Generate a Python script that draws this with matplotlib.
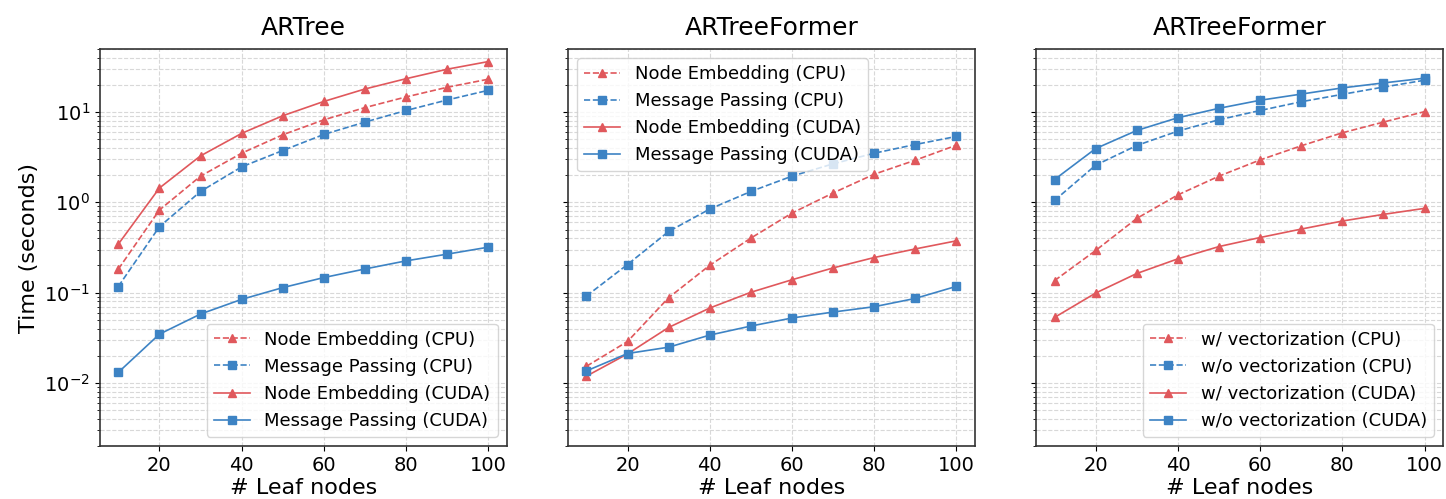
import matplotlib
matplotlib.use('Agg')
import matplotlib.pyplot as plt

plt.rcParams.update({'font.family': 'DejaVu Sans'})

leaves = [10, 20, 30, 40, 50, 60, 70, 80, 90, 100]

# ARTree
artree_ne_cpu = [0.182, 0.822, 1.95, 3.5, 5.6, 8.2, 11.2, 14.7, 18.8, 23.1]
artree_mp_cpu = [0.117, 0.537, 1.32, 2.47, 3.75, 5.65, 7.74, 10.4, 13.6, 17.4]
artree_ne_cuda = [0.344, 1.44, 3.27, 5.8, 9.1, 13.1, 18.0, 23.4, 29.8, 36.2]
artree_mp_cuda = [0.0131, 0.0347, 0.058, 0.0843, 0.1137, 0.147, 0.183, 0.225, 0.267, 0.319]

# ARTreeFormer
former_ne_cpu = [0.0153, 0.0288, 0.088, 0.201, 0.402, 0.761, 1.27, 2.05, 2.93, 4.30]
former_mp_cpu = [0.0918, 0.205, 0.476, 0.843, 1.32, 1.95, 2.67, 3.50, 4.37, 5.37]
former_ne_cuda = [0.0119, 0.021, 0.0412, 0.0676, 0.101, 0.139, 0.188, 0.245, 0.305, 0.375]
former_mp_cuda = [0.0136, 0.0212, 0.0249, 0.0339, 0.0427, 0.0524, 0.061, 0.0699, 0.0864, 0.1175]

# ARTreeFormer vectorization
vec_cpu = [0.136, 0.293, 0.664, 1.21, 1.95, 2.95, 4.23, 5.89, 7.74, 10.1]
novec_cpu = [1.05, 2.58, 4.26, 6.15, 8.22, 10.4, 13.0, 15.7, 18.9, 22.5]
vec_cuda = [0.0532, 0.099, 0.163, 0.237, 0.324, 0.408, 0.506, 0.621, 0.736, 0.858]
novec_cuda = [1.79, 3.94, 6.25, 8.65, 11.0, 13.5, 15.8, 18.5, 21.0, 23.7]

red = '#e0585c'
blue = '#3d83c4'

panels = [
    ('ARTree', [(artree_ne_cpu, 'Node Embedding (CPU)'), (artree_mp_cpu, 'Message Passing (CPU)'),
                (artree_ne_cuda, 'Node Embedding (CUDA)'), (artree_mp_cuda, 'Message Passing (CUDA)')],
     'lower right'),
    ('ARTreeFormer', [(former_ne_cpu, 'Node Embedding (CPU)'), (former_mp_cpu, 'Message Passing (CPU)'),
                      (former_ne_cuda, 'Node Embedding (CUDA)'), (former_mp_cuda, 'Message Passing (CUDA)')],
     'upper left'),
    ('ARTreeFormer', [(vec_cpu, 'w/ vectorization (CPU)'), (novec_cpu, 'w/o vectorization (CPU)'),
                      (vec_cuda, 'w/ vectorization (CUDA)'), (novec_cuda, 'w/o vectorization (CUDA)')],
     'lower right'),
]
styles = [(red, '^', '--'), (blue, 's', '--'), (red, '^', '-'), (blue, 's', '-')]

fig, axes = plt.subplots(1, 3, figsize=(14.46, 4.99), dpi=100, sharey=True, facecolor='white')
fig.subplots_adjust(left=0.069, right=0.998, top=0.902, bottom=0.106, wspace=0.15)

for ax, (title, series, loc) in zip(axes, panels):
    for (vals, lab), (c, m, ls) in zip(series, styles):
        ax.plot(leaves, vals, color=c, marker=m, ls=ls, lw=1.2, ms=5.5, label=lab)
    ax.set_yscale('log')
    ax.set_ylim(2e-3, 50)
    ax.grid(True, which='both', ls='--', color='#d8d8d8', lw=0.8)
    ax.set_axisbelow(True)
    ax.set_title(title, fontsize=18, pad=10)
    ax.set_xlabel('# Leaf nodes', fontsize=16, labelpad=2)
    ax.tick_params(labelsize=14)
    for s in ax.spines.values():
        s.set_color('#333333')
        s.set_linewidth(1.2)
    ax.legend(loc=loc, fontsize=13, framealpha=0.8)

axes[0].set_ylabel('Time (seconds)', fontsize=16)

fig.savefig('out.png', dpi=100, facecolor='white')
